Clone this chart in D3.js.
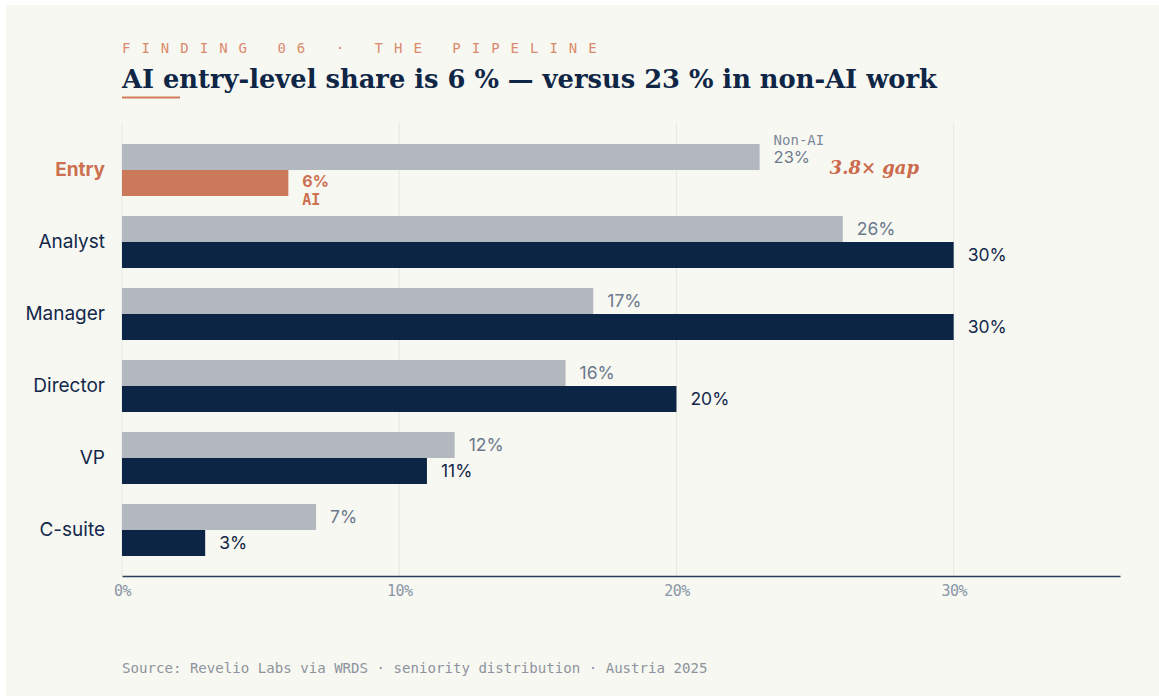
<!DOCTYPE html>
<html>
<head>
<meta charset="utf-8">
<script src="https://cdn.jsdelivr.net/npm/d3@7"></script>
<style>
  html, body { margin: 0; padding: 0; background: #ffffff; }
  svg { display: block; }
  .mono { font-family: "DejaVu Sans Mono", "Liberation Mono", monospace; }
  .sans { font-family: Inter, "Noto Sans", sans-serif; }
  .serif { font-family: "DejaVu Serif", "Liberation Serif", serif; }
</style>
</head>
<body>
<svg id="chart"></svg>
<script>
// data
var levels = ["Entry", "Analyst", "Manager", "Director", "VP", "C-suite"];
var nonAI = [23, 26, 17, 16, 12, 7];
var ai = [6, 30, 30, 20, 11, 3];
var xTicks = [0, 10, 20, 30];

var W = 1159, H = 696;
var margin = { top: 124, left: 122, bottom: 120, right: 39 };

var svg = d3.select("#chart")
    .attr("width", W)
    .attr("height", H);

// card
svg.append("rect")
    .attr("x", 6).attr("y", 5)
    .attr("width", W - 6).attr("height", H - 5)
    .attr("fill", "#f8f8f3");

var xScale = d3.scaleLinear()
    .domain([0, 36])
    .range([margin.left, W - margin.right]);

var yScale = d3.scaleBand()
    .domain(levels)
    .range([margin.top, H - margin.bottom])
    .paddingInner(0.278)
    .paddingOuter(0.278);

var barH = yScale.bandwidth() / 2;

// grid
svg.append("g")
    .selectAll("line")
    .data(xTicks)
    .enter()
    .append("line")
    .attr("x1", d => xScale(d))
    .attr("x2", d => xScale(d))
    .attr("y1", margin.top - 1)
    .attr("y2", H - margin.bottom)
    .attr("stroke", "#e7e7e1")
    .attr("stroke-width", 1);

// bars
var groups = svg.append("g")
    .selectAll("g")
    .data(levels)
    .enter()
    .append("g")
    .attr("transform", d => "translate(0," + yScale(d) + ")");

groups.append("rect")
    .attr("x", xScale(0))
    .attr("y", 0)
    .attr("width", (d, i) => xScale(nonAI[i]) - xScale(0))
    .attr("height", barH)
    .attr("fill", "#b2b8be");

groups.append("rect")
    .attr("x", xScale(0))
    .attr("y", barH)
    .attr("width", (d, i) => xScale(ai[i]) - xScale(0))
    .attr("height", barH)
    .attr("fill", (d, i) => i == 0 ? "#cc785b" : "#0c2545");

// value labels (Entry handled separately)
groups.filter((d, i) => i > 0)
    .append("text")
    .attr("class", "sans")
    .attr("x", (d, i) => xScale(nonAI[i + 1]) + 14)
    .attr("y", barH / 2)
    .attr("dy", "0.36em")
    .attr("fill", "#6b798b")
    .style("font-size", "17.5px")
    .text((d, i) => nonAI[i + 1] + "%");

groups.filter((d, i) => i > 0)
    .append("text")
    .attr("class", "sans")
    .attr("x", (d, i) => xScale(ai[i + 1]) + 14)
    .attr("y", barH * 1.5)
    .attr("dy", "0.36em")
    .attr("fill", "#13284a")
    .style("font-size", "17.5px")
    .style("font-weight", 400)
    .text((d, i) => ai[i + 1] + "%");

// Entry labels
var entry = groups.filter((d, i) => i == 0);
entry.append("text")
    .attr("class", "mono")
    .attr("x", xScale(nonAI[0]) + 14)
    .attr("y", barH / 2 - 12)
    .attr("fill", "#7d8898")
    .style("font-size", "14px")
    .text("Non-AI");
entry.append("text")
    .attr("class", "sans")
    .attr("x", xScale(nonAI[0]) + 14)
    .attr("y", barH / 2 + 6)
    .attr("fill", "#6b798b")
    .style("font-size", "16.5px")
    .text(nonAI[0] + "%");
entry.append("text")
    .attr("class", "sans")
    .attr("x", xScale(ai[0]) + 14)
    .attr("y", barH + 17)
    .attr("fill", "#cc7050")
    .style("font-size", "16px")
    .style("font-weight", 700)
    .text(ai[0] + "%");
entry.append("text")
    .attr("class", "mono")
    .attr("x", xScale(ai[0]) + 14)
    .attr("y", barH + 35)
    .attr("fill", "#cc7050")
    .style("font-size", "15px")
    .style("font-weight", 700)
    .text("AI");
entry.append("text")
    .attr("class", "serif")
    .attr("x", xScale(nonAI[0]) + 70)
    .attr("y", barH / 2 + 17)
    .attr("fill", "#cc6a4c")
    .style("font-size", "18px")
    .style("font-weight", 700)
    .style("font-style", "italic")
    .text((nonAI[0] / ai[0]).toFixed(1) + "\u00d7 gap");

// category labels
svg.append("g")
    .selectAll("text")
    .data(levels)
    .enter()
    .append("text")
    .attr("class", "sans")
    .attr("x", margin.left - 17)
    .attr("y", d => yScale(d) + barH)
    .attr("dy", "0.34em")
    .attr("text-anchor", "end")
    .attr("fill", (d, i) => i == 0 ? "#cc7050" : "#13284a")
    .style("font-size", "19px")
    .style("font-weight", (d, i) => i == 0 ? 700 : 400)
    .text(d => d);

// x axis
var xAxis = d3.axisBottom(xScale)
    .tickValues(xTicks)
    .tickSize(0)
    .tickPadding(9)
    .tickFormat(d => d + "%");

var axisG = svg.append("g")
    .attr("transform", "translate(0," + (H - margin.bottom) + ")")
    .call(xAxis);
axisG.select(".domain")
    .attr("stroke", "#2a3d5a")
    .attr("stroke-width", 1.5);
axisG.selectAll("text")
    .attr("class", "mono")
    .attr("fill", "#8a96a6")
    .style("font-size", "15px")
    .style("letter-spacing", "-0.6px");

// header
svg.append("text")
    .attr("class", "mono")
    .attr("x", margin.left)
    .attr("y", 53)
    .attr("fill", "#da8a6c")
    .style("font-size", "14px")
    .style("letter-spacing", "11px")
    .text("FINDING 06 \u00b7 THE PIPELINE");

var title = svg.append("text")
    .attr("class", "serif")
    .attr("x", margin.left)
    .attr("y", 88)
    .attr("fill", "#0f2646")
    .style("font-size", "28px")
    .style("font-weight", 700)
    .text("AI entry-level share is 6 % \u2014 versus 23 % in non-AI work");

// fit title width to the reference
var tw = title.node().getComputedTextLength();
title.style("font-size", (28 * 815 / tw) + "px");

svg.append("line")
    .attr("x1", margin.left).attr("x2", 180)
    .attr("y1", 97.5).attr("y2", 97.5)
    .attr("stroke", "#d4795a")
    .attr("stroke-width", 2);

// source
svg.append("text")
    .attr("class", "mono")
    .attr("x", margin.left)
    .attr("y", 673)
    .attr("fill", "#8d939c")
    .style("font-size", "14.1px")
    .text("Source: Revelio Labs via WRDS \u00b7 seniority distribution \u00b7 Austria 2025");
</script>
</body>
</html>
